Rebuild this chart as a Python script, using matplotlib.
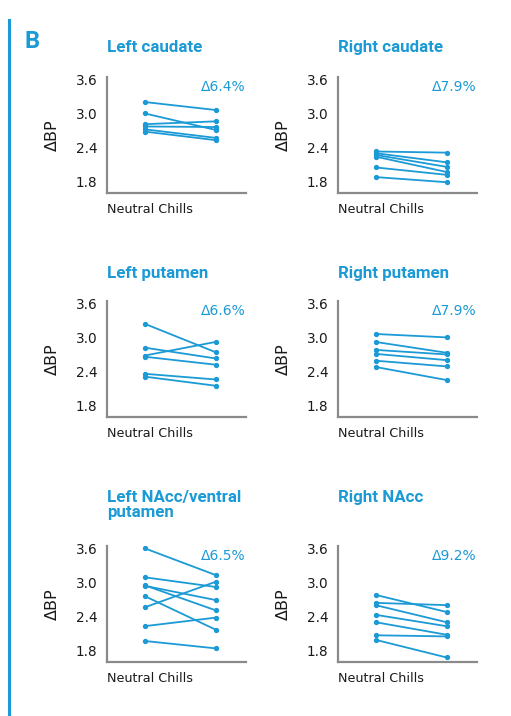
import matplotlib
matplotlib.use("Agg")
import matplotlib.pyplot as plt
from matplotlib.lines import Line2D

BLUE = "#1b9ad6"
GREY = "#8a8a8a"

conditions = ["Neutral", "Chills"]
yticks = [1.8, 2.4, 3.0, 3.6]
ytick_labels = ["1.8", "2.4", "3.0", "3.6"]

titles = ["Left caudate", "Right caudate", "Left putamen", "Right putamen",
          "Left NAcc/ventral\nputamen", "Right NAcc"]
deltas = ["Δ6.4%", "Δ7.9%", "Δ6.6%", "Δ7.9%", "Δ6.5%", "Δ9.2%"]

left_caudate_neutral = [3.20, 3.00, 2.81, 2.77, 2.72, 2.68]
left_caudate_chills = [3.06, 2.71, 2.86, 2.76, 2.57, 2.53]

right_caudate_neutral = [2.33, 2.30, 2.27, 2.24, 2.05, 1.88]
right_caudate_chills = [2.31, 2.14, 2.06, 1.97, 1.92, 1.79]

left_putamen_neutral = [3.24, 2.82, 2.68, 2.66, 2.36, 2.31]
left_putamen_chills = [2.74, 2.63, 2.92, 2.52, 2.26, 2.15]

right_putamen_neutral = [3.06, 2.92, 2.78, 2.71, 2.59, 2.48]
right_putamen_chills = [3.00, 2.73, 2.70, 2.60, 2.49, 2.25]

left_nacc_neutral = [3.60, 3.09, 2.94, 2.95, 2.76, 2.56, 2.23, 1.97]
left_nacc_chills = [3.13, 2.92, 2.69, 2.51, 2.17, 3.01, 2.38, 1.84]

right_nacc_neutral = [2.78, 2.64, 2.60, 2.43, 2.30, 2.07, 1.99]
right_nacc_chills = [2.48, 2.60, 2.30, 2.23, 2.08, 2.05, 1.68]

series = [
    (left_caudate_neutral, left_caudate_chills),
    (right_caudate_neutral, right_caudate_chills),
    (left_putamen_neutral, left_putamen_chills),
    (right_putamen_neutral, right_putamen_chills),
    (left_nacc_neutral, left_nacc_chills),
    (right_nacc_neutral, right_nacc_chills),
]

W, H = 511, 716
fig = plt.figure(figsize=(W / 100, H / 100), dpi=100)

col_left = [107, 338]
row_bottom = [193, 417, 662]
ax_w, ax_h = 139, 116
title_top = [42, 268, 492]

for i, (neu, chi) in enumerate(series):
    r, c = divmod(i, 2)
    x0 = col_left[c]
    yb = row_bottom[r]
    ax = fig.add_axes([x0 / W, 1 - yb / H, ax_w / W, ax_h / H])
    for a, b in zip(neu, chi):
        ax.plot([0, 1], [a, b], color=BLUE, lw=1.3, marker="o", ms=2.8,
                solid_capstyle="round")
    ax.set_xlim(-0.53, 1.43)
    ax.set_ylim(1.60, 3.64)
    ax.set_xticks([])
    ax.set_yticks(yticks)
    ax.set_yticklabels(ytick_labels, fontsize=9.8, family="DejaVu Sans", color="#1a1a1a")
    ax.tick_params(axis="y", length=0, pad=7)
    for s in ["top", "right"]:
        ax.spines[s].set_visible(False)
    for s in ["left", "bottom"]:
        ax.spines[s].set_color(GREY)
        ax.spines[s].set_linewidth(1.6)
    ax.patch.set_alpha(0)
    ax.text(0, -0.138, "Neutral Chills", transform=ax.transAxes, ha="left",
            va="center", fontsize=9.2, family="DejaVu Sans", color="#1a1a1a")
    ax.text(-0.39, 0.5, "ΔBP", transform=ax.transAxes, rotation=90, ha="center",
            va="center", fontsize=11.5, family="DejaVu Sans", color="#1a1a1a")
    ax.text(1.0, 0.91, deltas[i], transform=ax.transAxes, ha="right",
            va="center", fontsize=10, family="DejaVu Sans", color=BLUE)
    fig.text(x0 / W, 1 - (title_top[r] - 2) / H, titles[i], ha="left", va="top",
             fontsize=12.2, family="Roboto", fontweight="bold", color=BLUE,
             linespacing=1.0)

fig.text(32 / W, 1 - 42 / H, "B", ha="center", va="center", fontsize=17,
         family="Roboto", fontweight="bold", color=BLUE)
fig.add_artist(Line2D([8.5 / W, 8.5 / W], [0, 1 - 20 / H], color=BLUE, lw=2.2,
                      transform=fig.transFigure))

fig.savefig("out.png", dpi=100)
